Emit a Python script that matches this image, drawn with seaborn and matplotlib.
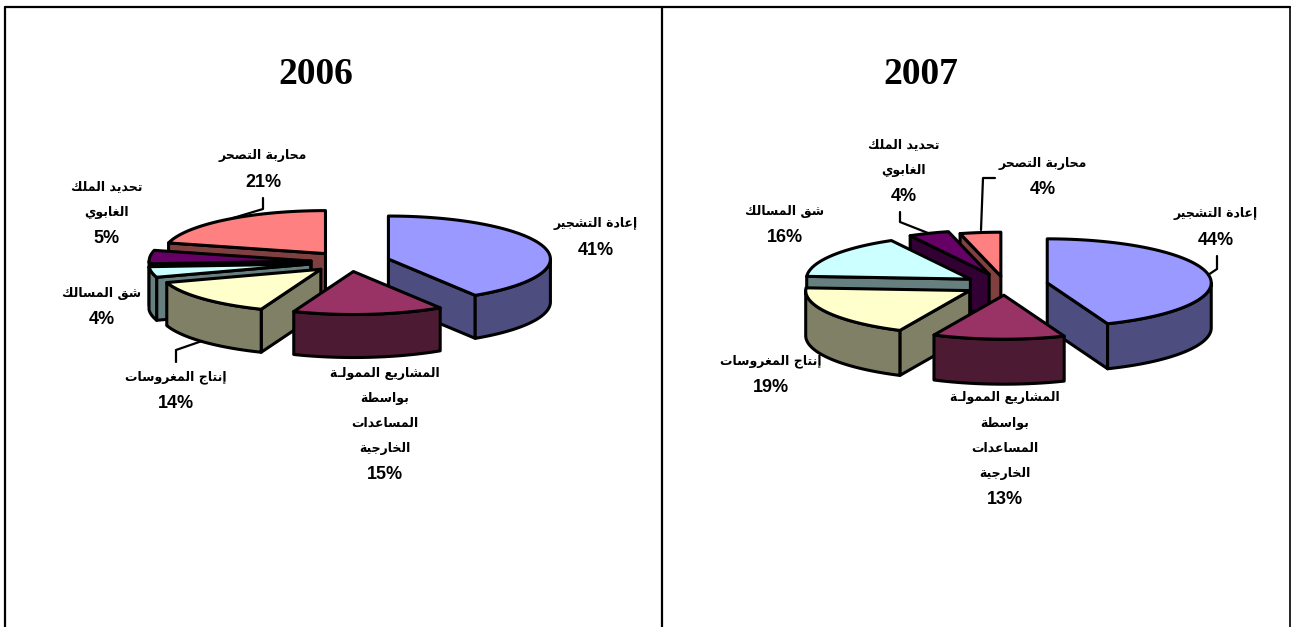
# -*- coding: utf-8 -*-
import numpy as np
import matplotlib
matplotlib.use("Agg")
import matplotlib.pyplot as plt
import seaborn as sns

years = ["2006", "2007"]
categories = [
    ["إعادة التشجير"],
    ["المشاريع الممولـة", "بواسطة", "المساعدات", "الخارجية"],
    ["إنتاج المغروسات"],
    ["شق المسالك"],
    ["تحديد الملك", "الغابوي"],
    ["محاربة التصحر"],
]
values_2006 = [41, 15, 14, 4, 5, 21]
values_2007 = [44, 13, 19, 16, 4, 4]

top_colors = sns.color_palette(["#9999FF", "#993366", "#FFFFCC", "#CCFFFF", "#660066", "#FF8080"])
side_colors = sns.color_palette(["#4D4D80", "#4D1A33", "#808066", "#668080", "#330033", "#804040"])

# joining forms: isolated code point of each letter in the presentation block
forms = {"ء": 0xFE80, "أ": 0xFE83, "إ": 0xFE87, "ا": 0xFE8D, "ب": 0xFE8F, "ة": 0xFE93, "ت": 0xFE95,
         "ج": 0xFE9D, "ح": 0xFEA1, "خ": 0xFEA5, "د": 0xFEA9, "ر": 0xFEAD, "س": 0xFEB1, "ش": 0xFEB5,
         "ص": 0xFEB9, "ط": 0xFEC1, "ع": 0xFEC9, "غ": 0xFECD, "ق": 0xFED5, "ك": 0xFED9, "ل": 0xFEDD,
         "م": 0xFEE1, "ن": 0xFEE5, "و": 0xFEED, "ي": 0xFEF1}
right_only = set("أإادرةو")


def shape(text):
    # matplotlib does not join or reorder arabic, so do it here
    out = []
    for i, ch in enumerate(text):
        if ch == "ـ" or ch not in forms:
            out.append(ch)
            continue
        prev = text[i - 1] if i > 0 else " "
        nxt = text[i + 1] if i < len(text) - 1 else " "
        join_prev = (prev in forms or prev == "ـ") and prev not in right_only
        join_next = (nxt in forms or nxt == "ـ") and ch not in right_only
        if ch in right_only:
            off = 1 if join_prev else 0
        else:
            off = 3 if join_prev and join_next else 1 if join_prev else 2 if join_next else 0
        out.append(chr(forms[ch] + off))
    return "".join(out[::-1])


def direction(angle):
    return np.sin(angle), -np.cos(angle)


def draw_pie(ax, values, cx, cy, a, b, depth, explode):
    fracs = np.array(values) / sum(values)
    ends = np.cumsum(fracs) * 2 * np.pi
    starts = ends - fracs * 2 * np.pi
    lw = 2.2
    # back slices first, then the right one, the bottom one last
    for i in [5, 4, 3, 2, 0, 1]:
        s, e = starts[i], ends[i]
        dx, dy = direction((s + e) / 2)
        ox = cx + explode[i] * dx
        oy = cy + explode[i] * dy * b / a
        t = np.linspace(s, e, 80)
        arc_x = ox + a * np.sin(t)
        arc_y = oy - b * np.cos(t)
        if np.sin(s) < 0:
            ax.fill([ox, arc_x[0], arc_x[0], ox], [oy, arc_y[0], arc_y[0] + depth, oy + depth],
                    fc=side_colors[i], ec="black", lw=lw, joinstyle="round")
        if np.sin(e) > 0:
            ax.fill([ox, arc_x[-1], arc_x[-1], ox], [oy, arc_y[-1], arc_y[-1] + depth, oy + depth],
                    fc=side_colors[i], ec="black", lw=lw, joinstyle="round")
        lo, hi = max(s, np.pi / 2), min(e, 3 * np.pi / 2)
        if hi > lo:
            tf = np.linspace(lo, hi, 80)
            fx = ox + a * np.sin(tf)
            fy = oy - b * np.cos(tf)
            ax.fill(np.r_[fx, fx[::-1]], np.r_[fy, fy[::-1] + depth],
                    fc=side_colors[i], ec="black", lw=lw, joinstyle="round")
        ax.fill(np.r_[ox, arc_x], np.r_[oy, arc_y], fc=top_colors[i], ec="black", lw=lw, joinstyle="round")


def draw_labels(ax, values, anchors):
    for names, val, (x, y) in zip(categories, values, anchors):
        for k, name in enumerate(names):
            ax.text(x, y + k * 25.2, shape(name), ha="center", va="center", fontsize=9,
                    fontweight="bold", family="DejaVu Sans", color="black")
        ax.text(x, y + 1 + len(names) * 25.2, f"{val}%", ha="center", va="center", fontsize=13,
                fontweight="bold", family="Liberation Sans", color="black")


sns.set_theme(style="white")
fig, ax = plt.subplots(figsize=(12.92, 6.27), dpi=100)
ax.set_position([0, 0, 1, 1])
ax.set_xlim(0, 1292)
ax.set_ylim(627, 0)
ax.axis("off")

# table frame
ax.plot([5, 5], [627, 7], color="black", lw=1.6)
ax.plot([5, 1290], [7, 7], color="black", lw=1.6)
ax.plot([662, 662], [7, 627], color="black", lw=1.6)
ax.plot([1290, 1290], [7, 627], color="black", lw=1.2)

for x, year in zip([316, 921], years):
    ax.text(x, 75, year, ha="center", va="center", fontsize=27, fontweight="bold",
            family="Liberation Serif", color="black")

# leader lines
for xs, ys in [([263, 263, 233], [198, 209, 218]),
               ([176, 176, 202], [362, 350, 341]),
               ([900, 900, 928], [212, 222, 233]),
               ([995, 983, 981], [178, 178, 230]),
               ([1217, 1217, 1208], [256, 269, 275])]:
    ax.plot(xs, ys, color="black", lw=1.6)

draw_pie(ax, values_2006, 350, 262, 162, 43, 43, [40, 36, 40, 40, 39, 40])
draw_pie(ax, values_2007, 1005, 285, 164, 44, 45, [43, 38, 41, 41, 43, 33])

draw_labels(ax, values_2006, [(596, 224), (385, 373), (176, 377), (102, 293), (107, 187), (263, 156)])
draw_labels(ax, values_2007, [(1216, 214), (1005, 398), (771, 361), (785, 211), (904, 145), (1043, 163)])

fig.savefig("out.png", dpi=100)
